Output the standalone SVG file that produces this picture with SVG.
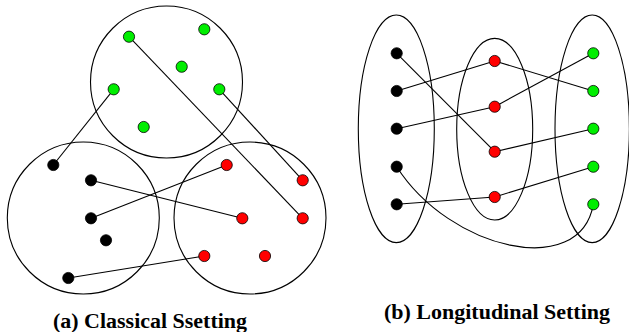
<svg xmlns="http://www.w3.org/2000/svg" width="629" height="332" viewBox="0 0 629 332">
<style>
.grp{fill:none;stroke:#000;stroke-width:1.1}
.e{fill:none;stroke:#000;stroke-width:1.1}
.b{fill:#000;stroke:#000;stroke-width:0.8}
.r{fill:#ff0000;stroke:#000;stroke-width:0.8}
.g{fill:#00ee00;stroke:#000;stroke-width:0.8}
.cap{font-family:"Liberation Serif",serif;font-weight:bold;font-size:20px;fill:#000}
</style>
<rect width="629" height="332" fill="#fff"/>
<g id="sets">
<circle id="set-green" class="grp" cx="166.5" cy="82" r="76"/>
<circle id="set-black" class="grp" cx="83.3" cy="218" r="76"/>
<circle id="set-red" class="grp" cx="250" cy="218" r="76"/>
<ellipse id="col-black" class="grp" cx="396.3" cy="128.8" rx="38" ry="113.8"/>
<ellipse id="col-red" class="grp" cx="494.7" cy="129.2" rx="38" ry="90.8"/>
<ellipse id="col-green" class="grp" cx="592.2" cy="128.8" rx="37.2" ry="113.8"/>
</g>
<g id="connectors">
<line class="e" x1="113.7" y1="89.3" x2="53.3" y2="165"/>
<line class="e" x1="129" y1="36.7" x2="302.7" y2="218.3"/>
<line class="e" x1="219.3" y1="89.3" x2="302.7" y2="180.3"/>
<line class="e" x1="91" y1="180.3" x2="242.3" y2="218.3"/>
<line class="e" x1="91" y1="218.3" x2="226.7" y2="165"/>
<line class="e" x1="68.3" y1="278" x2="204.3" y2="256"/>
<line class="e" x1="396.7" y1="53.3" x2="494.7" y2="151.7"/>
<line class="e" x1="396.7" y1="91" x2="494.7" y2="61"/>
<line class="e" x1="396.7" y1="128.7" x2="494.7" y2="106.7"/>
<line class="e" x1="396.7" y1="204.3" x2="494.7" y2="197"/>
<line class="e" x1="494.7" y1="61" x2="593.3" y2="91"/>
<line class="e" x1="494.7" y1="106.7" x2="593.3" y2="53.3"/>
<line class="e" x1="494.7" y1="151.7" x2="593.3" y2="128.7"/>
<line class="e" x1="494.7" y1="197" x2="593.3" y2="166.7"/>
<path class="e" d="M396.7,166.7 C450,250 580,280 593.3,204.3"/>
</g>
<g id="classical-nodes">
<circle id="g1" class="g" cx="129" cy="36.7" r="5.6"/>
<circle id="g2" class="g" cx="204.3" cy="29.3" r="5.6"/>
<circle id="g3" class="g" cx="181.7" cy="66.7" r="5.6"/>
<circle id="g4" class="g" cx="113.7" cy="89.3" r="5.6"/>
<circle id="g5" class="g" cx="219.3" cy="89.3" r="5.6"/>
<circle id="g6" class="g" cx="143.7" cy="127" r="5.6"/>
<circle id="k1" class="b" cx="53.3" cy="165" r="5.6"/>
<circle id="k2" class="b" cx="91" cy="180.3" r="5.6"/>
<circle id="k3" class="b" cx="91" cy="218.3" r="5.6"/>
<circle id="k4" class="b" cx="106" cy="240.3" r="5.6"/>
<circle id="k5" class="b" cx="68.3" cy="278" r="5.6"/>
<circle id="r1" class="r" cx="226.7" cy="165" r="5.6"/>
<circle id="r2" class="r" cx="302.7" cy="180.3" r="5.6"/>
<circle id="r3" class="r" cx="242.3" cy="218.3" r="5.6"/>
<circle id="r4" class="r" cx="302.7" cy="218.3" r="5.6"/>
<circle id="r5" class="r" cx="204.3" cy="256" r="5.6"/>
<circle id="r6" class="r" cx="265" cy="256" r="5.6"/>
</g>
<g id="longitudinal-nodes">
<circle id="lk1" class="b" cx="396.7" cy="53.3" r="5.6"/>
<circle id="lk2" class="b" cx="396.7" cy="91" r="5.6"/>
<circle id="lk3" class="b" cx="396.7" cy="128.7" r="5.6"/>
<circle id="lk4" class="b" cx="396.7" cy="166.7" r="5.6"/>
<circle id="lk5" class="b" cx="396.7" cy="204.3" r="5.6"/>
<circle id="lr1" class="r" cx="494.7" cy="61" r="5.6"/>
<circle id="lr2" class="r" cx="494.7" cy="106.7" r="5.6"/>
<circle id="lr3" class="r" cx="494.7" cy="151.7" r="5.6"/>
<circle id="lr4" class="r" cx="494.7" cy="197" r="5.6"/>
<circle id="lg1" class="g" cx="593.3" cy="53.3" r="5.6"/>
<circle id="lg2" class="g" cx="593.3" cy="91" r="5.6"/>
<circle id="lg3" class="g" cx="593.3" cy="128.7" r="5.6"/>
<circle id="lg4" class="g" cx="593.3" cy="166.7" r="5.6"/>
<circle id="lg5" class="g" cx="593.3" cy="204.3" r="5.6"/>
</g>
<g id="captions">
<text class="cap" x="53" y="328" textLength="194" lengthAdjust="spacingAndGlyphs">(a) Classical Ssetting</text>
<text class="cap" x="384" y="319" textLength="226" lengthAdjust="spacingAndGlyphs">(b) Longitudinal Setting</text>
</g>
</svg>
